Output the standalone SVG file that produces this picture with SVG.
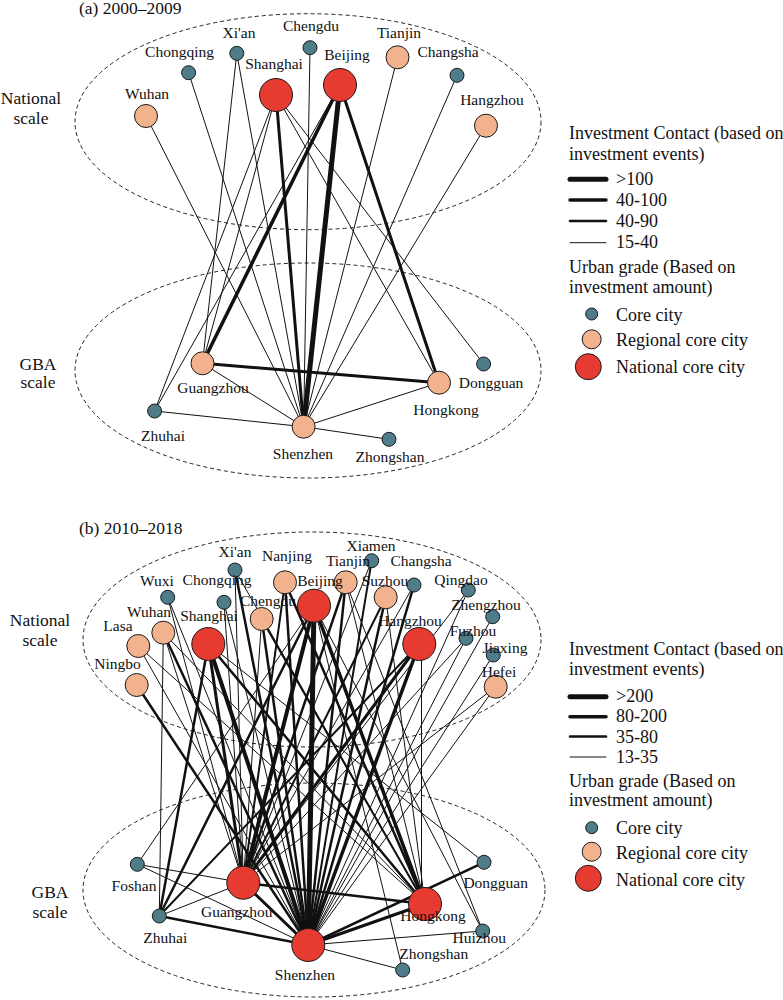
<svg xmlns="http://www.w3.org/2000/svg" width="783" height="1000" viewBox="0 0 783 1000">
<style>
text{font-family:"Liberation Serif","Times New Roman",serif;fill:#111}
.lbl{font-size:15.5px;text-anchor:middle}
.sc{font-size:17.5px;text-anchor:middle}
.ttl{font-size:17.5px}
.leg{font-size:18px}
.ell{fill:none;stroke:#222;stroke-width:1;stroke-dasharray:4 3}
.e line{stroke:#111;stroke-linecap:round}
.w1{stroke-width:1}.w2{stroke-width:2}.w25{stroke-width:2.5}.w3{stroke-width:3}.w35{stroke-width:3.5}.w4{stroke-width:4}.w5{stroke-width:5}
.c{fill:#4e7d89;stroke:#1a1a1a;stroke-width:1}
.r{fill:#f2b28d;stroke:#1a1a1a;stroke-width:1}
.n{fill:#e63b30;stroke:#1a1a1a;stroke-width:1}
</style>
<rect width="783" height="1000" fill="#fff"/>

<!-- ===== Panel (a) ===== -->
<text class="ttl" x="79" y="14">(a) 2000–2009</text>
<g id="a-scales">
<ellipse class="ell" cx="308" cy="121.7" rx="233" ry="108"/>
<ellipse class="ell" cx="308" cy="370.5" rx="233" ry="107.5"/>
<text class="sc" x="31" y="104">National</text>
<text class="sc" x="31" y="124">scale</text>
<text class="sc" x="38" y="370">GBA</text>
<text class="sc" x="38" y="388">scale</text>
</g>
<g id="a-connectors" class="e">
<line class="w5" x1="340" y1="85" x2="303.6" y2="426.7"/>
<line class="w35" x1="340" y1="85" x2="202.5" y2="363.3"/>
<line class="w3" x1="340" y1="85" x2="439" y2="382.7"/>
<line class="w1" x1="340" y1="85" x2="154.6" y2="411"/>
<line class="w3" x1="276" y1="95" x2="303.6" y2="426.7"/>
<line class="w1" x1="276" y1="95" x2="202.5" y2="363.3"/>
<line class="w1" x1="276" y1="95" x2="154.6" y2="411"/>
<line class="w1" x1="276" y1="95" x2="439" y2="382.7"/>
<line class="w1" x1="276" y1="95" x2="483.6" y2="364"/>
<line class="w1" x1="236.8" y1="53.3" x2="303.6" y2="426.7"/>
<line class="w1" x1="236.8" y1="53.3" x2="202.5" y2="363.3"/>
<line class="w1" x1="188.6" y1="72.7" x2="303.6" y2="426.7"/>
<line class="w1" x1="146" y1="116" x2="303.6" y2="426.7"/>
<line class="w1" x1="310" y1="47.7" x2="303.6" y2="426.7"/>
<line class="w1" x1="397.5" y1="57.3" x2="303.6" y2="426.7"/>
<line class="w1" x1="457" y1="75.3" x2="303.6" y2="426.7"/>
<line class="w1" x1="486" y1="125.7" x2="303.6" y2="426.7"/>
<line class="w3" x1="202.5" y1="363.3" x2="439" y2="382.7"/>
<line class="w1" x1="202.5" y1="363.3" x2="303.6" y2="426.7"/>
<line class="w1" x1="154.6" y1="411" x2="303.6" y2="426.7"/>
<line class="w1" x1="439" y1="382.7" x2="303.6" y2="426.7"/>
<line class="w1" x1="389" y1="439.3" x2="303.6" y2="426.7"/>
</g>
<g id="a-chongqing"><circle class="c" cx="188.6" cy="72.7" r="7"/><text class="lbl" x="179.5" y="57">Chongqing</text></g>
<g id="a-xian"><circle class="c" cx="236.8" cy="53.3" r="7"/><text class="lbl" x="239" y="38">Xi'an</text></g>
<g id="a-chengdu"><circle class="c" cx="310" cy="47.7" r="7"/><text class="lbl" x="311" y="31">Chengdu</text></g>
<g id="a-tianjin"><circle class="r" cx="397.5" cy="57.3" r="11.5"/><text class="lbl" x="399" y="38">Tianjin</text></g>
<g id="a-changsha"><circle class="c" cx="457" cy="75.3" r="7"/><text class="lbl" x="448" y="57">Changsha</text></g>
<g id="a-shanghai"><circle class="n" cx="276" cy="95" r="16.5"/><text class="lbl" x="274" y="69">Shanghai</text></g>
<g id="a-beijing"><circle class="n" cx="340" cy="85" r="16.5"/><text class="lbl" x="347" y="60">Beijing</text></g>
<g id="a-wuhan"><circle class="r" cx="146" cy="116" r="11.5"/><text class="lbl" x="147" y="99">Wuhan</text></g>
<g id="a-hangzhou"><circle class="r" cx="486" cy="125.7" r="11.5"/><text class="lbl" x="492" y="104.5">Hangzhou</text></g>
<g id="a-guangzhou"><circle class="r" cx="202.5" cy="363.3" r="11.5"/><text class="lbl" x="213" y="393">Guangzhou</text></g>
<g id="a-hongkong"><circle class="r" cx="439" cy="382.7" r="11.5"/><text class="lbl" x="446" y="415">Hongkong</text></g>
<g id="a-dongguan"><circle class="c" cx="483.6" cy="364" r="7"/><text class="lbl" x="491" y="387.5">Dongguan</text></g>
<g id="a-zhuhai"><circle class="c" cx="154.6" cy="411" r="7"/><text class="lbl" x="163" y="440.5">Zhuhai</text></g>
<g id="a-shenzhen"><circle class="r" cx="303.6" cy="426.7" r="11.5"/><text class="lbl" x="303" y="459">Shenzhen</text></g>
<g id="a-zhongshan"><circle class="c" cx="389" cy="439.3" r="7"/><text class="lbl" x="390" y="462">Zhongshan</text></g>

<g id="a-legend">
<text class="leg" x="569" y="139">Investment Contact (based on</text>
<text class="leg" x="569" y="160">investment events)</text>
<g class="e">
<line class="w5" x1="570" y1="179.3" x2="606" y2="179.3"/>
<line class="w35" x1="570" y1="200" x2="606" y2="200"/>
<line class="w25" x1="570" y1="221" x2="606" y2="221"/>
<line class="w1" x1="570" y1="242.7" x2="606" y2="242.7"/>
</g>
<text class="leg" x="616" y="185">&gt;100</text>
<text class="leg" x="616" y="206">40-100</text>
<text class="leg" x="616" y="227">40-90</text>
<text class="leg" x="616" y="248">15-40</text>
<text class="leg" x="569" y="273">Urban grade (Based on</text>
<text class="leg" x="569" y="293">investment amount)</text>
<circle class="c" cx="591.7" cy="314" r="6"/>
<text class="leg" x="616" y="320.5">Core city</text>
<circle class="r" cx="591.7" cy="339.3" r="9.5"/>
<text class="leg" x="616" y="346">Regional core city</text>
<circle class="n" cx="588.3" cy="366.7" r="13"/>
<text class="leg" x="616" y="372.5">National core city</text>
</g>

<!-- ===== Panel (b) ===== -->
<text class="ttl" x="79" y="534">(b) 2010–2018</text>
<g id="b-scales">
<ellipse class="ell" cx="312" cy="639.5" rx="229" ry="107.5"/>
<ellipse class="ell" cx="314" cy="890" rx="231" ry="107"/>
<text class="sc" x="40" y="626">National</text>
<text class="sc" x="40" y="646">scale</text>
<text class="sc" x="50" y="898">GBA</text>
<text class="sc" x="50" y="918">scale</text>
</g>
<g id="b-connectors" class="e">
<!-- Beijing -->
<line class="w5" x1="314" y1="605.7" x2="308.3" y2="945"/>
<line class="w4" x1="314" y1="605.7" x2="243.3" y2="882.7"/>
<line class="w35" x1="314" y1="605.7" x2="425" y2="904"/>
<line class="w25" x1="314" y1="605.7" x2="159.3" y2="916"/>
<line class="w1" x1="314" y1="605.7" x2="137.3" y2="864.3"/>
<line class="w1" x1="314" y1="605.7" x2="402.7" y2="970"/>
<line class="w1" x1="314" y1="605.7" x2="482.7" y2="931"/>
<!-- Shanghai -->
<line class="w4" x1="208.3" y1="644" x2="308.3" y2="945"/>
<line class="w3" x1="208.3" y1="644" x2="243.3" y2="882.7"/>
<line class="w25" x1="208.3" y1="644" x2="425" y2="904"/>
<line class="w25" x1="208.3" y1="644" x2="159.3" y2="916"/>
<line class="w1" x1="208.3" y1="644" x2="484" y2="862.3"/>
<!-- Hangzhou -->
<line class="w35" x1="419.3" y1="644" x2="308.3" y2="945"/>
<line class="w3" x1="419.3" y1="644" x2="243.3" y2="882.7"/>
<line class="w2" x1="419.3" y1="644" x2="159.3" y2="916"/>
<line class="w1" x1="421.5" y1="644" x2="421.5" y2="904"/>
<!-- others -->
<line class="w25" x1="285" y1="582.3" x2="308.3" y2="945"/>
<line class="w2" x1="285" y1="582.3" x2="243.3" y2="882.7"/>
<line class="w25" x1="285" y1="582.3" x2="425" y2="904"/>
<line class="w25" x1="345.7" y1="582.3" x2="308.3" y2="945"/>
<line class="w25" x1="345.7" y1="582.3" x2="243.3" y2="882.7"/>
<line class="w1" x1="345.7" y1="582.3" x2="482.7" y2="931"/>
<line class="w1" x1="345.7" y1="582.3" x2="425" y2="904"/>
<line class="w25" x1="261.7" y1="619" x2="308.3" y2="945"/>
<line class="w1" x1="261.7" y1="619" x2="243.3" y2="882.7"/>
<line class="w2" x1="261.7" y1="619" x2="425" y2="904"/>
<line class="w25" x1="163.3" y1="632.7" x2="308.3" y2="945"/>
<line class="w1" x1="163.3" y1="632.7" x2="243.3" y2="882.7"/>
<line class="w1" x1="163.3" y1="632.7" x2="159.3" y2="916"/>
<line class="w1" x1="163.3" y1="632.7" x2="425" y2="904"/>
<line class="w25" x1="235" y1="570" x2="308.3" y2="945"/>
<line class="w1" x1="235" y1="570" x2="243.3" y2="882.7"/>
<line class="w1" x1="235" y1="570" x2="425" y2="904"/>
<line class="w25" x1="385.7" y1="597.3" x2="308.3" y2="945"/>
<line class="w2" x1="385.7" y1="597.3" x2="243.3" y2="882.7"/>
<line class="w1" x1="385.7" y1="597.3" x2="425" y2="904"/>
<line class="w25" x1="414" y1="585" x2="308.3" y2="945"/>
<line class="w1" x1="414" y1="585" x2="243.3" y2="882.7"/>
<line class="w2" x1="371.7" y1="560.7" x2="308.3" y2="945"/>
<line class="w1" x1="371.7" y1="560.7" x2="243.3" y2="882.7"/>
<line class="w1" x1="468.3" y1="590" x2="308.3" y2="945"/>
<line class="w1" x1="468.3" y1="590" x2="243.3" y2="882.7"/>
<line class="w1" x1="492.7" y1="616.7" x2="308.3" y2="945"/>
<line class="w1" x1="466" y1="638.3" x2="308.3" y2="945"/>
<line class="w1" x1="466" y1="638.3" x2="243.3" y2="882.7"/>
<line class="w1" x1="493.3" y1="655" x2="308.3" y2="945"/>
<line class="w1" x1="495.7" y1="686.7" x2="308.3" y2="945"/>
<line class="w1" x1="495.7" y1="686.7" x2="243.3" y2="882.7"/>
<line class="w1" x1="138.3" y1="646" x2="308.3" y2="945"/>
<line class="w1" x1="138.3" y1="646" x2="425" y2="904"/>
<line class="w1" x1="167.7" y1="597.3" x2="308.3" y2="945"/>
<line class="w1" x1="167.7" y1="597.3" x2="243.3" y2="882.7"/>
<line class="w1" x1="224" y1="602.3" x2="308.3" y2="945"/>
<line class="w1" x1="224" y1="602.3" x2="243.3" y2="882.7"/>
<line class="w25" x1="136.7" y1="685" x2="308.3" y2="945"/>
<!-- GBA internal -->
<line class="w1" x1="137.3" y1="864.3" x2="243.3" y2="882.7"/>
<line class="w1" x1="137.3" y1="864.3" x2="308.3" y2="945"/>
<line class="w1" x1="159.3" y1="916" x2="243.3" y2="882.7"/>
<line class="w25" x1="159.3" y1="916" x2="308.3" y2="945"/>
<line class="w25" x1="243.3" y1="882.7" x2="425" y2="904"/>
<line class="w3" x1="243.3" y1="882.7" x2="308.3" y2="945"/>
<line class="w3" x1="425" y1="904" x2="308.3" y2="945"/>
<line class="w25" x1="484" y1="862.3" x2="308.3" y2="945"/>
<line class="w1" x1="482.7" y1="931" x2="308.3" y2="945"/>
<line class="w1" x1="402.7" y1="970" x2="308.3" y2="945"/>
</g>
<g id="b-xian"><circle class="c" cx="235" cy="570" r="7"/><text class="lbl" x="235" y="557">Xi'an</text></g>
<g id="b-nanjing"><circle class="r" cx="285" cy="582.3" r="11.5"/><text class="lbl" x="287" y="561">Nanjing</text></g>
<g id="b-xiamen"><circle class="c" cx="371.7" cy="560.7" r="7"/><text class="lbl" x="371" y="550.5">Xiamen</text></g>
<g id="b-tianjin"><circle class="r" cx="345.7" cy="582.3" r="11.5"/><text class="lbl" x="348" y="566">Tianjin</text></g>
<g id="b-changsha"><circle class="c" cx="414" cy="585" r="7"/><text class="lbl" x="421" y="566">Changsha</text></g>
<g id="b-wuxi"><circle class="c" cx="167.7" cy="597.3" r="7"/><text class="lbl" x="157" y="586">Wuxi</text></g>
<g id="b-chongqing"><circle class="c" cx="224" cy="602.3" r="7"/><text class="lbl" x="217" y="585">Chongqing</text></g>
<g id="b-suzhou"><circle class="r" cx="385.7" cy="597.3" r="11.5"/><text class="lbl" x="385" y="586">Suzhou</text></g>
<g id="b-qingdao"><circle class="c" cx="468.3" cy="590" r="7"/><text class="lbl" x="461" y="585">Qingdao</text></g>
<g id="b-chengdu"><circle class="r" cx="261.7" cy="619" r="11.5"/><text class="lbl" x="268" y="606">Chengdu</text></g>
<g id="b-beijing"><circle class="n" cx="314" cy="605.7" r="16.5"/><text class="lbl" x="320" y="586">Beijing</text></g>
<g id="b-zhengzhou"><circle class="c" cx="492.7" cy="616.7" r="7"/><text class="lbl" x="486" y="610">Zhengzhou</text></g>
<g id="b-wuhan"><circle class="r" cx="163.3" cy="632.7" r="11.5"/><text class="lbl" x="149" y="616.5">Wuhan</text></g>
<g id="b-shanghai"><circle class="n" cx="208.3" cy="644" r="16.5"/><text class="lbl" x="209" y="621">Shanghai</text></g>
<g id="b-hangzhou"><circle class="n" cx="419.3" cy="644" r="16.5"/><text class="lbl" x="410" y="626">Hangzhou</text></g>
<g id="b-fuzhou"><circle class="c" cx="466" cy="638.3" r="7"/><text class="lbl" x="473" y="636">Fuzhou</text></g>
<g id="b-lasa"><circle class="r" cx="138.3" cy="646" r="11.5"/><text class="lbl" x="118" y="631">Lasa</text></g>
<g id="b-jiaxing"><circle class="c" cx="493.3" cy="655" r="7"/><text class="lbl" x="505" y="653">Jiaxing</text></g>
<g id="b-ningbo"><circle class="r" cx="136.7" cy="685" r="11.5"/><text class="lbl" x="117.5" y="669">Ningbo</text></g>
<g id="b-hefei"><circle class="r" cx="495.7" cy="686.7" r="11.5"/><text class="lbl" x="499" y="676.5">Hefei</text></g>
<g id="b-foshan"><circle class="c" cx="137.3" cy="864.3" r="7"/><text class="lbl" x="134" y="890.5">Foshan</text></g>
<g id="b-guangzhou"><circle class="n" cx="243.3" cy="882.7" r="16.5"/><text class="lbl" x="236.7" y="917">Guangzhou</text></g>
<g id="b-zhuhai"><circle class="c" cx="159.3" cy="916" r="7"/><text class="lbl" x="165.3" y="943">Zhuhai</text></g>
<g id="b-hongkong"><circle class="n" cx="425" cy="904" r="16.5"/><text class="lbl" x="433" y="921">Hongkong</text></g>
<g id="b-dongguan"><circle class="c" cx="484" cy="862.3" r="7"/><text class="lbl" x="495.7" y="888">Dongguan</text></g>
<g id="b-huizhou"><circle class="c" cx="482.7" cy="931" r="7"/><text class="lbl" x="479.3" y="943">Huizhou</text></g>
<g id="b-shenzhen"><circle class="n" cx="308.3" cy="945" r="16.5"/><text class="lbl" x="305" y="980">Shenzhen</text></g>
<g id="b-zhongshan"><circle class="c" cx="402.7" cy="970" r="7"/><text class="lbl" x="433.7" y="959">Zhongshan</text></g>

<g id="b-legend">
<text class="leg" x="569" y="655">Investment Contact (based on</text>
<text class="leg" x="569" y="675">investment events)</text>
<g class="e">
<line class="w5" x1="570" y1="696.7" x2="606" y2="696.7"/>
<line class="w35" x1="570" y1="716.7" x2="606" y2="716.7"/>
<line class="w25" x1="570" y1="736.5" x2="606" y2="736.5"/>
<line class="w1" x1="570" y1="757" x2="606" y2="757"/>
</g>
<text class="leg" x="616" y="701.5">&gt;200</text>
<text class="leg" x="616" y="722">80-200</text>
<text class="leg" x="616" y="742.5">35-80</text>
<text class="leg" x="616" y="763">13-35</text>
<text class="leg" x="569" y="787">Urban grade (Based on</text>
<text class="leg" x="569" y="806">investment amount)</text>
<circle class="c" cx="591.7" cy="827.7" r="6"/>
<text class="leg" x="616" y="833.5">Core city</text>
<circle class="r" cx="591.7" cy="851.7" r="9.5"/>
<text class="leg" x="616" y="858.5">Regional core city</text>
<circle class="n" cx="588.3" cy="878.3" r="13"/>
<text class="leg" x="616" y="886">National core city</text>
</g>
</svg>
